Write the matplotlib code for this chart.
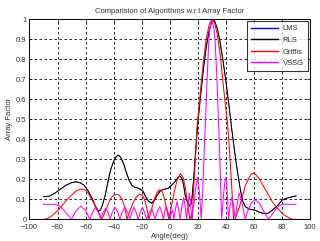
import matplotlib.pyplot as plt

plt.rcParams['font.family'] = ['Liberation Sans', 'DejaVu Sans']

# RLS (black) array factor
rls_deg = [-90, -86, -82, -78, -74, -70, -67, -64, -61, -58, -55, -53, -51, -49.5,
           -48, -46, -44, -42, -40, -38, -36.5, -35, -33, -31, -29, -27, -25, -23,
           -21, -19, -17, -15, -13, -11, -9, -7, -5, -3, -1, 0.5, 2, 4, 6, 7.5, 9,
           10, 11, 12.4, 14.3, 15.5, 16, 17, 18, 19, 20, 22, 24, 26, 28, 30, 30.5,
           32, 34, 36, 38, 40, 42, 44, 46, 48, 50, 52, 54, 57, 61, 64, 67, 70, 73,
           77, 80, 83, 86, 90]
rls_af = [0.113, 0.115, 0.13, 0.15, 0.17, 0.183, 0.187, 0.183, 0.17, 0.14, 0.1, 0.065,
          0.042, 0.045, 0.07, 0.12, 0.19, 0.25, 0.29, 0.315, 0.32, 0.31, 0.28, 0.235,
          0.195, 0.17, 0.16, 0.157, 0.15, 0.14, 0.11, 0.09, 0.08, 0.095, 0.12, 0.14,
          0.148, 0.152, 0.155, 0.165, 0.175, 0.19, 0.21, 0.215, 0.2, 0.165, 0.12, 0.09,
          0.066, 0.08, 0.12, 0.2, 0.3, 0.39, 0.48, 0.62, 0.75, 0.86, 0.94, 0.99, 1.0,
          0.99, 0.95, 0.88, 0.79, 0.69, 0.58, 0.46, 0.35, 0.25, 0.16, 0.09, 0.062,
          0.05, 0.045, 0.035, 0.03, 0.03, 0.045, 0.07, 0.095, 0.105, 0.11, 0.117]

# LMS (blue) lies under the RLS curve everywhere
lms_deg = rls_deg
lms_af = rls_af

# Griffiths (red)
grf_deg = [-90, -88, -85, -82, -79, -76, -73, -70, -67, -64, -62, -60, -58, -56, -54,
           -52, -50, -48.5, -46.5, -44, -42, -40, -38, -36, -34, -32, -30.5, -28.5,
           -26, -24, -21.5, -19.5, -18, -16.5, -14.8, -13, -11, -9, -7.1, -5.5, -4,
           -2.5, -0.7, 1, 3, 5, 7.6, 9.5, 11, 12.5, 14.3, 15.3, 16, 17, 18.3, 19.3,
           20, 22, 24, 26, 28, 30, 32, 34, 36, 38, 40, 41.2, 43, 44.5, 45.5, 46.5, 48,
           50, 52, 54, 56, 58, 59.5, 61, 63.5, 66, 68.3, 71, 73, 76, 78, 80, 82.6, 86,
           88, 90]
grf_af = [0.0, 0.002, 0.012, 0.03, 0.05, 0.075, 0.1, 0.12, 0.14, 0.15, 0.15, 0.145,
          0.13, 0.105, 0.08, 0.055, 0.025, 0.0, 0.03, 0.075, 0.105, 0.12, 0.125, 0.12,
          0.1, 0.06, 0.0, 0.04, 0.085, 0.11, 0.125, 0.12, 0.1, 0.06, 0.0, 0.05, 0.1,
          0.135, 0.148, 0.14, 0.11, 0.06, 0.0, 0.06, 0.13, 0.19, 0.228, 0.21, 0.16,
          0.09, 0.0, 0.02, 0.0, 0.15, 0.3, 0.45, 0.5, 0.65, 0.79, 0.9, 0.97, 1.0, 0.98,
          0.92, 0.82, 0.68, 0.55, 0.48, 0.3, 0.12, 0.0, 0.0, 0.03, 0.07, 0.12, 0.17,
          0.2, 0.225, 0.23, 0.225, 0.205, 0.175, 0.147, 0.115, 0.088, 0.06, 0.047,
          0.03, 0.017, 0.003, 0.0, 0.0]

# VSSG (magenta)
vsg_deg = [-90, -86, -82, -79, -76, -73, -70, -67, -63.5, -60, -57, -55, -53, -51, -49,
           -47.5, -45.5, -44, -42.5, -41, -39, -37, -35.5, -34, -32, -30, -28.5, -27,
           -25.5, -24, -22.5, -21, -19.5, -18, -16.5, -15, -12.6, -10.5, -9, -7.1,
           -5.5, -4.5, -3.5, -2.4, -1, 0, 1, 2, 3, 4, 5.2, 6.5, 7.5, 8.5, 10, 11.2, 12,
           13, 14, 15, 15.7, 16.7, 17.6, 18.3, 20, 21.3, 22.4, 23.5, 24.5, 25.5, 26.5,
           27.6, 28.5, 30, 31.5, 32.4, 33.5, 34.7, 35.8, 37, 38.3, 39.5, 40.5, 41.9, 43,
           44.3, 45.5, 46.7, 48, 49.5, 51, 53.8, 56, 58.5, 61, 64, 67, 70.5, 73.5, 76,
           78, 81, 86, 90]
vsg_af = [0.075, 0.075, 0.074, 0.068, 0.05, 0.025, 0.0, 0.04, 0.065, 0.045, 0.0, 0.035,
          0.06, 0.035, 0.0, 0.035, 0.055, 0.035, 0.0, 0.035, 0.06, 0.035, 0.0, 0.035,
          0.06, 0.035, 0.0, 0.035, 0.06, 0.035, 0.0, 0.035, 0.06, 0.035, 0.0, 0.03,
          0.05, 0.0, 0.035, 0.063, 0.03, 0.0, 0.04, 0.065, 0.03, 0.0, 0.03, 0.045, 0.0,
          0.05, 0.088, 0.04, 0.0, 0.06, 0.11, 0.05, 0.0, 0.07, 0.13, 0.06, 0.0, 0.06,
          0.09, 0.15, 0.21, 0.12, 0.0, 0.15, 0.33, 0.5, 0.68, 0.86, 0.95, 1.0, 0.95,
          0.88, 0.72, 0.5, 0.28, 0.0, 0.12, 0.205, 0.19, 0.0, 0.07, 0.11, 0.07, 0.0,
          0.08, 0.13, 0.1, 0.0, 0.05, 0.085, 0.097, 0.08, 0.04, 0.0, 0.03, 0.055, 0.068,
          0.075, 0.075, 0.075]

x_ticks = [-100, -80, -60, -40, -20, 0, 20, 40, 60, 80, 100]
y_ticks = [0, 0.1, 0.2, 0.3, 0.4, 0.5, 0.6, 0.7, 0.8, 0.9, 1]
y_tick_labels = ['0', '0.1', '0.2', '0.3', '0.4', '0.5', '0.6', '0.7', '0.8', '0.9', '1']

fig = plt.figure(figsize=(3.2, 2.41), dpi=100)
ax = fig.add_axes([0.092, 0.09, 0.877, 0.831])

lw = 0.75
# LMS is drawn first and thinner, so RLS covers it completely as in the original
lms_line, = ax.plot(lms_deg, lms_af, color='blue', lw=0.4, label='LMS')
ax.plot(rls_deg, rls_af, color='black', lw=lw, label='RLS')
ax.plot(grf_deg, grf_af, color='red', lw=lw, label='Griffis')
ax.plot(vsg_deg, vsg_af, color='magenta', lw=lw, label='VSSG')

ax.set_xlim(-100, 100)
ax.set_ylim(0, 1)
ax.set_xticks(x_ticks)
ax.set_yticks(y_ticks)
ax.set_yticklabels(y_tick_labels)
ax.grid(True, color='black', linestyle=(0, (3, 3)), linewidth=0.6)
ax.tick_params(direction='in', labelsize=5.5, length=2, width=0.5, pad=2,
               labelcolor='#333333', top=True, right=True)
ax.tick_params(axis='x', pad=3.5)
for s in ax.spines.values():
    s.set_linewidth(0.7)

ax.set_title('Comparision of Algorithms w.r.t Array Factor', fontsize=5.5,
             color='#333333', pad=4)
ax.set_xlabel('Angle(deg)', fontsize=5.5, color='#333333', labelpad=1.5)
ax.set_ylabel('Array Factor', fontsize=5.5, color='#333333', labelpad=2)

leg = ax.legend(loc='upper right', fontsize=5.5, frameon=True, fancybox=False,
                edgecolor='black', handlelength=3.6, borderpad=0.5, labelspacing=0.55,
                borderaxespad=0.3, handletextpad=0.6)
leg.get_frame().set_linewidth(0.8)
for line in leg.get_lines():
    line.set_linewidth(1.0)
for t in leg.get_texts():
    t.set_color('#333333')

fig.savefig('out.png', dpi=100)
